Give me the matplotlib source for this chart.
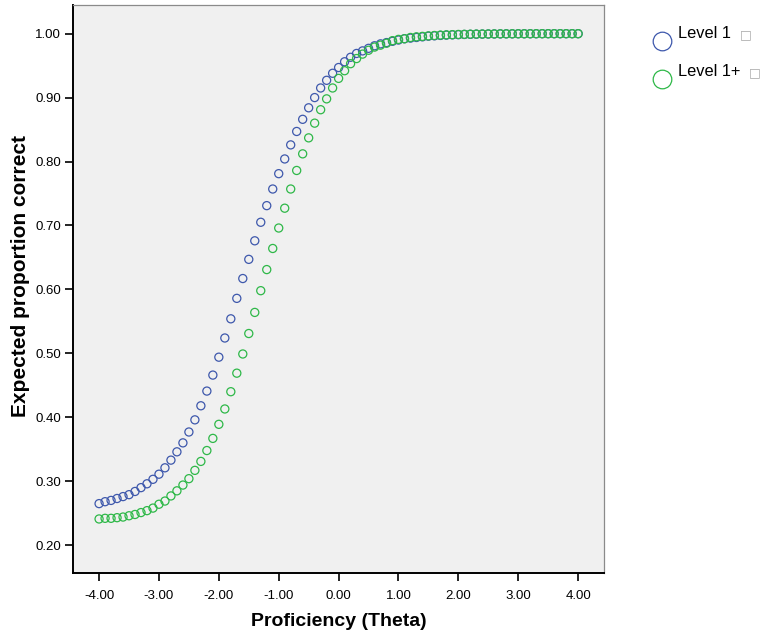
import matplotlib.pyplot as plt
from matplotlib.lines import Line2D

plt.rcParams['font.family'] = ['Liberation Sans', 'DejaVu Sans']

theta = [-4.0, -3.9, -3.8, -3.7, -3.6, -3.5, -3.4, -3.3, -3.2, -3.1,
         -3.0, -2.9, -2.8, -2.7, -2.6, -2.5, -2.4, -2.3, -2.2, -2.1,
         -2.0, -1.9, -1.8, -1.7, -1.6, -1.5, -1.4, -1.3, -1.2, -1.1,
         -1.0, -0.9, -0.8, -0.7, -0.6, -0.5, -0.4, -0.3, -0.2, -0.1,
         0.0, 0.1, 0.2, 0.3, 0.4, 0.5, 0.6, 0.7, 0.8, 0.9,
         1.0, 1.1, 1.2, 1.3, 1.4, 1.5, 1.6, 1.7, 1.8, 1.9,
         2.0, 2.1, 2.2, 2.3, 2.4, 2.5, 2.6, 2.7, 2.8, 2.9,
         3.0, 3.1, 3.2, 3.3, 3.4, 3.5, 3.6, 3.7, 3.8, 3.9, 4.0]

level1 = [0.265, 0.268, 0.270, 0.273, 0.276, 0.279, 0.284, 0.290, 0.296, 0.303,
          0.311, 0.321, 0.333, 0.346, 0.360, 0.377, 0.396, 0.418, 0.441, 0.466,
          0.494, 0.524, 0.554, 0.586, 0.617, 0.647, 0.676, 0.705, 0.731, 0.757,
          0.781, 0.804, 0.826, 0.847, 0.866, 0.884, 0.900, 0.915, 0.927, 0.938,
          0.947, 0.956, 0.963, 0.969, 0.973, 0.977, 0.981, 0.984, 0.986, 0.988,
          0.990, 0.992, 0.993, 0.994, 0.995, 0.996, 0.9966, 0.9972, 0.9977, 0.9981,
          0.9984, 0.9987, 0.9989, 0.9991, 0.9993, 0.9994, 0.9995, 0.9996, 0.9997, 0.9997,
          0.9998, 0.9998, 0.9998, 0.9998, 0.9999, 0.9999, 0.9999, 0.9999, 0.9999, 0.9999, 0.9999]

level1plus = [0.241, 0.242, 0.242, 0.243, 0.244, 0.246, 0.248, 0.251, 0.254, 0.258,
              0.264, 0.269, 0.277, 0.285, 0.294, 0.304, 0.317, 0.331, 0.348, 0.367,
              0.389, 0.413, 0.440, 0.469, 0.499, 0.531, 0.564, 0.598, 0.631, 0.664,
              0.696, 0.727, 0.757, 0.786, 0.812, 0.837, 0.860, 0.881, 0.898, 0.915,
              0.930, 0.942, 0.953, 0.961, 0.968, 0.974, 0.979, 0.982, 0.985, 0.989,
              0.991, 0.992, 0.994, 0.995, 0.9957, 0.9965, 0.9971, 0.9977, 0.9981, 0.9984,
              0.9987, 0.9989, 0.9991, 0.9993, 0.9994, 0.9995, 0.9996, 0.9997, 0.9997, 0.9998,
              0.9998, 0.9998, 0.9998, 0.9999, 0.9999, 0.9999, 0.9999, 0.9999, 0.9999, 0.9999, 0.9999]

series_names = ['Level 1', 'Level 1+']
series_colors = ['#3e58ac', '#2eb848']
xticks = [-4, -3, -2, -1, 0, 1, 2, 3, 4]
yticks = [0.2, 0.3, 0.4, 0.5, 0.6, 0.7, 0.8, 0.9, 1.0]

W, H = 764, 639
fig = plt.figure(figsize=(W / 100, H / 100), dpi=100)
ax = fig.add_axes([0.0952, 0.1038, 0.6960, 0.8876])
ax.set_facecolor('#f0f0f0')

for vals, col in zip([level1, level1plus], series_colors):
    ax.scatter(theta, vals, s=34, facecolors='none', edgecolors=col, linewidths=0.9)

ax.set_xlim(-4.44, 4.44)
ax.set_ylim(0.157, 1.044)
ax.set_xticks(xticks)
ax.set_xticklabels(['%.2f' % t for t in xticks])
ax.set_yticks(yticks)
ax.set_yticklabels(['%.2f' % t for t in yticks])
ax.tick_params(direction='out', length=6, width=1.2, labelsize=9.5)
ax.tick_params(axis='x', pad=6.5)
ax.tick_params(axis='y', pad=2.5)
ax.spines['left'].set_linewidth(1.4)
ax.spines['bottom'].set_linewidth(1.4)
for s in ['top', 'right']:
    ax.spines[s].set_color('#8a8a8a')
    ax.spines[s].set_linewidth(0.9)

ax.set_xlabel('Proficiency (Theta)', fontsize=14, fontweight='bold', labelpad=8)
ax.set_ylabel('Expected proportion correct', fontsize=15, fontweight='bold')
ax.yaxis.set_label_coords(-0.080, 0.523)

# legend, drawn by hand to the right of the plot
for i, (name, col) in enumerate(zip(series_names, series_colors)):
    yc = 1 - (40.5 + 38.5 * i) / H
    yb = 1 - (37.8 + 38.5 * i) / H
    fig.add_artist(Line2D([662 / W], [yc], marker='o', markersize=13.4, markerfacecolor='none',
                          markeredgecolor=col, markeredgewidth=0.9, transform=fig.transFigure))
    t = fig.text(678 / W, yb, name, fontsize=11.8, va='baseline', ha='left')
    fig.canvas.draw()
    bb = t.get_window_extent()
    fig.text((bb.x1 + 9) / W, yb, '\u25a1', fontsize=9, color='#aaaaaa',
             va='baseline', ha='left', family='DejaVu Sans')

fig.savefig('out.png', dpi=100)
